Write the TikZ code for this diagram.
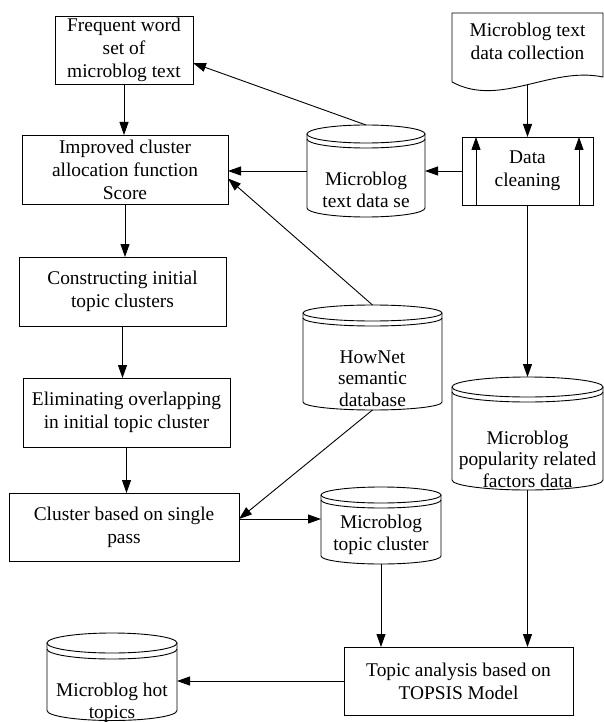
\documentclass[tikz,border=0pt]{standalone}
\usepackage{fontspec}
\setmainfont{Liberation Serif}
\usetikzlibrary{arrows.meta,calc}
\tikzset{
  line/.style={draw=black, line width=0.9pt},
  arr/.style={line, -{Triangle[length=13pt,width=9pt]}},
  box/.style={line, rectangle, align=center, inner sep=0pt, outer sep=0pt,
    font=\fontsize{19.4}{23}\selectfont},
  txt/.style={align=center, inner sep=0pt, font=\fontsize{19.4}{23}\selectfont},
  ctxt/.style={align=center, inner sep=0pt, font=\fontsize{19.4}{21.5}\selectfont},
  cylbox/.style={rectangle, draw=none, inner sep=0pt, outer sep=0pt},
}
% name, cx, top, bottom, rx, ry, gap
\newcommand\dbcyl[7]{%
  \node[cylbox, minimum width={2*#5pt}, minimum height={(#4-#3)*1pt}] (#1) at (#2,{(#3+#4)/2}) {};
  \draw[line] ([yshift=-#6pt]#1.north) ellipse [x radius=#5pt, y radius=#6pt];
  \draw[line] ([yshift=-#6pt]#1.north west) -- ([yshift=#6pt]#1.south west)
     arc[start angle=180, end angle=360, x radius=#5pt, y radius=#6pt]
     -- ([yshift=-#6pt]#1.north east);
  \draw[line] ([yshift={-#6pt-#7pt}]#1.north west)
     arc[start angle=180, end angle=360, x radius=#5pt, y radius=#6pt];
}
\begin{document}
\begin{tikzpicture}[x=1pt,y=-1pt]
\useasboundingbox (0,0) rectangle (604,722);

% boxes
\node[box, minimum width=138pt, minimum height=68pt] (freq) at (124,50) {Frequent word\\set of\\microblog text};
\node[box, minimum width=206pt, minimum height=69pt] (imp) at (125,169.5) {Improved cluster\\allocation function\\Score};
\node[box, minimum width=207pt, minimum height=69pt] (con) at (122.5,291.5) {Constructing initial\\topic clusters};
\node[box, minimum width=207pt, minimum height=69pt] (eli) at (126.5,412.5) {Eliminating overlapping\\in initial topic cluster};
\node[box, minimum width=230pt, minimum height=68pt] (clu) at (124,527) {Cluster based on single\\pass};
\node[box, minimum width=229pt, minimum height=68pt] (tops) at (458.5,681) {Topic analysis based on\\TOPSIS Model};
\node[box, minimum width=131pt, minimum height=68pt] (dc) at (527.5,171) {Data\\cleaning};

% document shape
\node[cylbox, minimum width=151pt, minimum height=72pt] (doc) at (527.5,49) {};
\draw[line] (452,82) -- (452,13) -- (603,13) -- (603,77)
   .. controls (550,66) and (500,108) .. (452,82) -- cycle;
\node[txt] (docT) at (527.5,41.5) {Microblog text\\data collection};

% cylinders
\dbcyl{mtd}{366}{125}{217}{59}{9}{5}
\node[ctxt] (mtdT) at (366,190) {Microblog\\text data se};
\dbcyl{hn}{372.5}{305}{410}{69.5}{8}{5}
\node[ctxt] (hnT) at (372.5,378.5) {HowNet\\semantic\\database};
\dbcyl{pop}{527.5}{377}{490}{75.5}{10}{5}
\node[ctxt] (popT) at (527.5,459) {Microblog\\popularity related\\factors data};
\dbcyl{tc}{381}{487}{564}{60}{8}{5}
\node[ctxt] (tcT) at (381,535) {Microblog\\topic cluster};
\dbcyl{hot}{112}{633}{720.5}{65}{10}{6}
\node[ctxt] (hotT) at (112,703) {Microblog hot\\topics};

% connectors
\draw[arr] (freq.south) -- (freq.south |- imp.north);
\draw[arr] (imp.south) -- (imp.south |- con.north);
\draw[arr] (con.south) -- (con.south |- eli.north);
\draw[arr] (eli.south) -- (eli.south |- clu.north);
\draw[arr] (doc.south) -- (dc.north);
\draw[arr] ([xshift=14pt]dc.south west) -- ([xshift=14pt]dc.north west);
\draw[arr] ([xshift=-14pt]dc.south east) -- ([xshift=-14pt]dc.north east);
\draw[arr] (dc.west) -- (dc.west -| mtd.east);
\draw[arr] (mtd.west) -- (mtd.west -| imp.east);
\draw[arr] (mtd.north) -- ([yshift=-13pt]freq.east);
\draw[arr] (hn.north) -- ([yshift=-9pt]imp.east);
\coordinate (cc) at ([yshift=8pt]clu.east);
\draw[arr] (hn.south) -- (cc);
\draw[arr] (cc) -- (cc -| tc.west);
\draw[arr] (dc.south) -- (pop.north);
\draw[arr] (tc.south) -- (tc.south |- tops.north);
\draw[arr] (pop.south) -- (pop.south |- tops.north);
\draw[arr] (tops.west) -- (tops.west -| hot.east);
\end{tikzpicture}
\end{document}
